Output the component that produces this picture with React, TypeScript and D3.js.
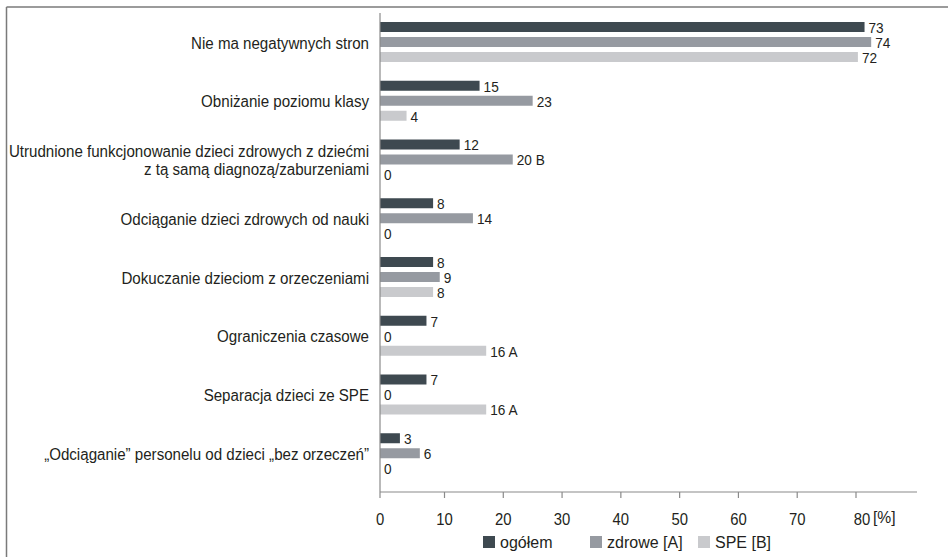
import React from "react";
import * as d3 from "d3";

const categoryLines: string[][] = [
  ["Nie ma negatywnych stron"],
  ["Obniżanie poziomu klasy"],
  ["Utrudnione funkcjonowanie dzieci zdrowych z dziećmi", "z tą samą diagnozą/zaburzeniami"],
  ["Odciąganie dzieci zdrowych od nauki"],
  ["Dokuczanie dzieciom z orzeczeniami"],
  ["Ograniczenia czasowe"],
  ["Separacja dzieci ze SPE"],
  ["„Odciąganie” personelu od dzieci „bez orzeczeń”"],
];
const categoryKeys = categoryLines.map((l) => l.join(" "));

const seriesNames = ["ogółem", "zdrowe [A]", "SPE [B]"];
const ogolem = [73, 15, 12, 8, 8, 7, 7, 3];
const zdrowe = [74, 23, 20, 14, 9, 0, 0, 6];
const spe = [72, 4, 0, 0, 8, 16, 16, 0];
const zdroweSig = ["", "", "B", "", "", "", "", ""];
const speSig = ["", "", "", "", "", "A", "A", ""];
const ogolemSig = ["", "", "", "", "", "", "", ""];
const xTicks = [0, 10, 20, 30, 40, 50, 60, 70, 80];
const unitLabel = "[%]";

const colors = ["#3e4950", "#969aa1", "#c9cacd"];
const FONT = "'Liberation Sans', Arial, sans-serif";
const TEXT = "#231f20";

type TProps = {
  x: number;
  y: number;
  sx: number;
  size: number;
  anchor?: "start" | "middle" | "end";
  children: React.ReactNode;
};
function SText({ x, y, sx, size, anchor = "start", children }: TProps) {
  return (
    <text
      transform={`translate(${x} ${y}) scale(${sx} 1)`}
      x={0}
      y={0}
      textAnchor={anchor}
      dominantBaseline="central"
      fontSize={size}
      fill={TEXT}
    >
      {children}
    </text>
  );
}

export default function App() {
  const W = 948;
  const H = 557;
  const axisX = 380;
  const axisTop = 13;
  const axisY = 492;

  const xBar = d3.scaleLinear().domain([0, 80]).range([axisX, 911]);
  const xTick = d3.scaleLinear().domain([0, 10, 80]).range([axisX, 444.5, 856]);
  const yGroup = d3.scaleBand<string>().domain(categoryKeys).range([13.5, 483.5]).paddingInner(0).paddingOuter(0);
  const ySeries = d3.scaleBand<string>().domain(seriesNames).range([8.5, 48.5]).paddingInner(1 / 3).paddingOuter(0);

  const series = [
    { name: seriesNames[0], values: ogolem, sig: ogolemSig },
    { name: seriesNames[1], values: zdrowe, sig: zdroweSig },
    { name: seriesNames[2], values: spe, sig: speSig },
  ];

  const legendX = [483, 590, 698];

  return (
    <svg width={W} height={H} style={{ position: "absolute", left: 0, top: 0, background: "#fff" }} fontFamily={FONT}>
      <rect x={0} y={0} width={W} height={H} fill="#fff" />
      {/* frame */}
      <line x1={6.5} y1={7} x2={W} y2={7} stroke="#7a7a7a" strokeWidth={1.5} />
      <line x1={6.5} y1={7} x2={6.5} y2={H} stroke="#7a7a7a" strokeWidth={1.5} />

      {/* category labels */}
      {categoryLines.map((lines, i) => {
        const cy = (yGroup(categoryKeys[i]) as number) + 29.5;
        const lh = 17.5;
        const start = cy - ((lines.length - 1) * lh) / 2;
        return (
          <g key={i}>
            {lines.map((ln, j) => (
              <SText key={j} x={369} y={start + j * lh} sx={0.945} size={16}>
                {ln}
              </SText>
            )).map((el) => React.cloneElement(el, { anchor: "end" }))}
          </g>
        );
      })}

      {/* bars */}
      {categoryKeys.map((key, i) => {
        const g0 = yGroup(key) as number;
        return (
          <g key={key}>
            {series.map((s, k) => {
              const y = g0 + (ySeries(s.name) as number);
              const bw = ySeries.bandwidth();
              const v = s.values[i];
              const x1 = xBar(v);
              const label = s.sig[i] ? `${v} ${s.sig[i]}` : `${v}`;
              return (
                <g key={s.name}>
                  {v > 0 && <rect x={axisX} y={y} width={x1 - axisX} height={bw} fill={colors[k]} />}
                  <SText x={x1 + 4} y={y + bw / 2 + 0.5} sx={0.88} size={15.5}>
                    {label}
                  </SText>
                </g>
              );
            })}
          </g>
        );
      })}

      {/* axes */}
      <line x1={axisX} y1={axisTop} x2={axisX} y2={axisY} stroke="#8a8a8a" strokeWidth={1.2} />
      <line x1={axisX} y1={axisY} x2={917} y2={axisY} stroke="#8a8a8a" strokeWidth={1.2} />
      {xTicks.map((t) => (
        <g key={t}>
          <line x1={xTick(t)} y1={axisY} x2={xTick(t)} y2={axisY + 6} stroke="#8a8a8a" strokeWidth={1.2} />
          <SText x={xTick(t) + (t === 80 ? 6 : 0)} y={519} sx={0.9} size={16.5} anchor="middle">
            {t}
          </SText>
        </g>
      ))}
      <SText x={xTick(80) + 17} y={517} sx={0.95} size={16.5}>
        {unitLabel}
      </SText>

      {/* legend */}
      {seriesNames.map((n, k) => (
        <g key={n}>
          <rect x={legendX[k]} y={536} width={12} height={12} fill={colors[k]} />
          <SText x={legendX[k] + 17} y={542.5} sx={1} size={16}>
            {n}
          </SText>
        </g>
      ))}
    </svg>
  );
}
